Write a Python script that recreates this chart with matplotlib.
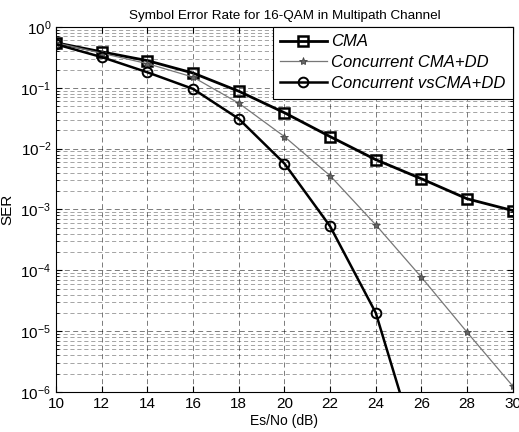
import matplotlib
matplotlib.use("Agg")
import matplotlib.pyplot as plt
import numpy as np

plt.rcParams['font.family'] = ['Liberation Sans', 'DejaVu Sans']
plt.rcParams['mathtext.fontset'] = 'custom'
plt.rcParams['mathtext.rm'] = 'Liberation Sans'
plt.rcParams['mathtext.it'] = 'Liberation Sans:italic'

esno = [10, 12, 14, 16, 18, 20, 22, 24, 26, 28, 30]
ser_cma = [0.55, 0.39, 0.28, 0.175, 0.088, 0.039, 0.0158, 0.0066, 0.0032, 0.0015, 0.00096]
ser_cma_dd = [0.55, 0.37, 0.25, 0.15, 0.056, 0.0158, 0.0036, 5.6e-4, 7.7e-5, 9.6e-6, 1.25e-6]
esno_vs = [10, 12, 14, 16, 18, 20, 22, 24, 26]
ser_vs = [0.52, 0.32, 0.18, 0.096, 0.031, 0.0057, 5.3e-4, 2.0e-5, 6.6e-8]

title = "Symbol Error Rate for 16-QAM in Multipath Channel"
labels = ["CMA", "Concurrent CMA+DD", "Concurrent vsCMA+DD"]

fig = plt.figure(figsize=(5.19, 4.32), dpi=100)
ax = fig.add_axes([0.108, 0.0926, 0.880, 0.8449])

ax.semilogy(esno, ser_cma, color="black", lw=2.0, marker="s", ms=7,
            mfc="none", mec="black", mew=1.8, label=labels[0])
ax.semilogy(esno, ser_cma_dd, color="#777777", lw=0.9, marker="*", ms=6,
            mfc="#666666", mec="#444444", mew=0.6, label=labels[1])
ax.semilogy(esno_vs, ser_vs, color="black", lw=1.8, marker="o", ms=7,
            mfc="none", mec="black", mew=1.4, label=labels[2])

ax.set_xlim(10, 30)
ax.set_ylim(1e-6, 1)
ax.set_xticks(range(10, 31, 2))
ax.tick_params(which="both", direction="in", top=True, right=True, labelsize=11)
ax.tick_params(which="major", length=4)
ax.tick_params(which="minor", length=2)
ax.grid(True, which="major", ls=(0, (6, 4)), color="black", lw=0.6, alpha=0.6)
ax.grid(True, which="minor", axis="y", ls=(0, (6, 4)), color="black", lw=0.5, alpha=0.5)

ax.set_title(title, fontsize=9.7, pad=6)
ax.set_xlabel("Es/No (dB)", fontsize=10, labelpad=2)
ax.set_ylabel("SER", fontsize=11, labelpad=4)

leg = ax.legend(loc="upper right", prop={"style": "italic", "size": 12, "family": "Liberation Sans"},
                frameon=True, fancybox=False, edgecolor="black", framealpha=1,
                borderaxespad=0.0, handlelength=2.8, handletextpad=0.25,
                labelspacing=0.35, borderpad=0.45)
leg.get_frame().set_linewidth(0.8)

for s in ax.spines.values():
    s.set_linewidth(0.8)

fig.savefig("out.png", dpi=100)
